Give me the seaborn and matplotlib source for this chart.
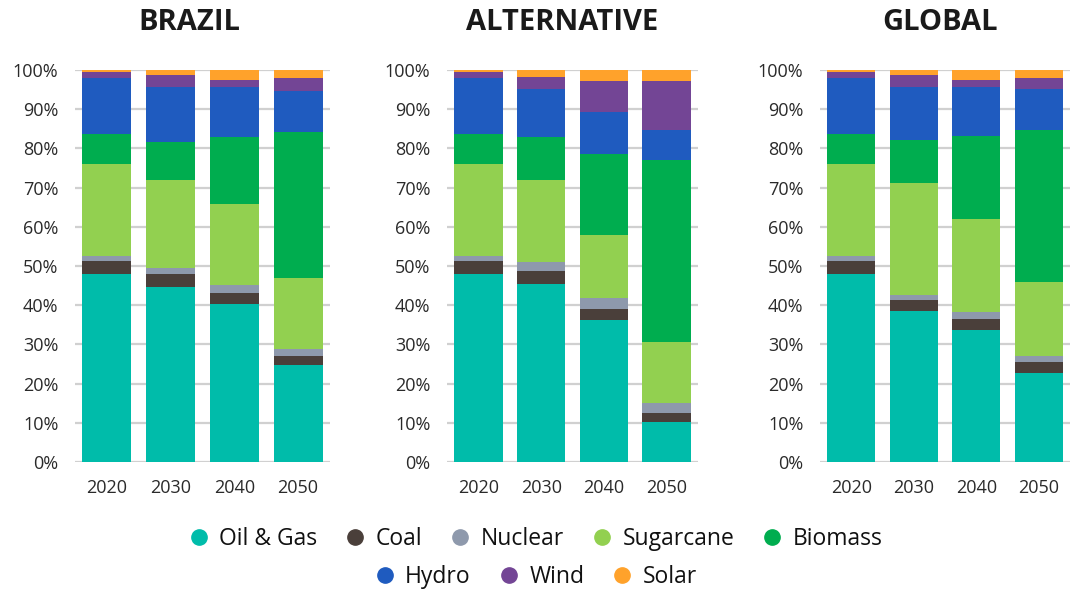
import numpy as np
import pandas as pd
import matplotlib
matplotlib.use("Agg")
import matplotlib.pyplot as plt
from matplotlib.lines import Line2D
import seaborn as sns

years = ["2020", "2030", "2040", "2050"]
scenarios = ["BRAZIL", "ALTERNATIVE", "GLOBAL"]
sources = ["Oil & Gas", "Coal", "Nuclear", "Sugarcane", "Biomass", "Hydro", "Wind", "Solar"]
colors = ["#00BCAA", "#4A3F3A", "#8E99AC", "#92D050", "#00AD4F", "#1F5BBF", "#734595", "#FFA22B"]

# shares (%) per source, per year 2020..2050
brazil_oil = [47.9, 44.6, 40.3, 24.7]
brazil_coal = [3.5, 3.3, 2.9, 2.3]
brazil_nuclear = [1.2, 1.6, 1.9, 1.7]
brazil_sugarcane = [23.5, 22.4, 20.7, 18.2]
brazil_biomass = [7.7, 9.8, 17.0, 37.4]
brazil_hydro = [14.1, 14.0, 12.8, 10.3]
brazil_wind = [1.7, 2.9, 1.8, 3.3]
brazil_solar = [0.4, 1.4, 2.6, 2.1]

alt_oil = [47.9, 45.4, 36.2, 10.2]
alt_coal = [3.5, 3.3, 2.9, 2.2]
alt_nuclear = [1.2, 2.3, 2.7, 2.6]
alt_sugarcane = [23.5, 20.9, 16.2, 15.5]
alt_biomass = [7.7, 10.9, 20.6, 46.5]
alt_hydro = [14.1, 12.3, 10.8, 7.8]
alt_wind = [1.7, 3.1, 7.8, 12.4]
alt_solar = [0.4, 1.8, 2.8, 2.8]

glob_oil = [47.9, 38.4, 33.7, 22.6]
glob_coal = [3.5, 2.9, 2.7, 2.8]
glob_nuclear = [1.2, 1.3, 1.9, 1.7]
glob_sugarcane = [23.5, 28.5, 23.6, 18.7]
glob_biomass = [7.7, 11.0, 21.3, 38.9]
glob_hydro = [14.1, 13.6, 12.5, 10.4]
glob_wind = [1.7, 2.9, 1.7, 2.8]
glob_solar = [0.4, 1.4, 2.6, 2.1]

data = {
    "BRAZIL": [brazil_oil, brazil_coal, brazil_nuclear, brazil_sugarcane,
               brazil_biomass, brazil_hydro, brazil_wind, brazil_solar],
    "ALTERNATIVE": [alt_oil, alt_coal, alt_nuclear, alt_sugarcane,
                    alt_biomass, alt_hydro, alt_wind, alt_solar],
    "GLOBAL": [glob_oil, glob_coal, glob_nuclear, glob_sugarcane,
               glob_biomass, glob_hydro, glob_wind, glob_solar],
}

sns.set_theme(style="white")
plt.rcParams["font.family"] = ["Open Sans", "DejaVu Sans"]

fig = plt.figure(figsize=(10.7, 5.9), dpi=100)
W, H = 1070, 590
ax_px = [(75, 330), (447, 698), (820, 1070)]
title_x = [189, 562, 940]
y0, y1 = 462, 70

for (l, r), tx, scen in zip(ax_px, title_x, scenarios):
    ax = fig.add_axes([l / W, 1 - y0 / H, (r - l) / W, (y0 - y1) / H])
    vals = np.array(data[scen], dtype=float)
    cum = np.cumsum(vals, axis=0)
    # draw from the top of the stack downwards (overlay technique)
    for i in range(len(sources) - 1, -1, -1):
        df = pd.DataFrame({"year": years, "value": cum[i]})
        sns.barplot(data=df, x="year", y="value", color=colors[i], ax=ax,
                    width=0.77, saturation=1, linewidth=0, zorder=2)
    ax.set_ylim(0, 100)
    ax.set_xlim(-0.5, 3.5)
    ax.set_yticks(np.arange(0, 101, 10))
    ax.set_yticklabels([f"{v}%" for v in range(0, 101, 10)])
    ax.yaxis.grid(True, color="#D0D0D0", linewidth=1.6, zorder=0)
    ax.set_axisbelow(True)
    for s in ax.spines.values():
        s.set_visible(False)
    ax.tick_params(axis="both", length=0, labelsize=13, colors="#2a2a2a")
    ax.tick_params(axis="y", pad=12)
    ax.tick_params(axis="x", pad=12)
    ax.set_xlabel("")
    ax.set_ylabel("")
    fig.text(tx / W, 1 - 23 / H, scen, ha="center", va="center",
             fontsize=21, fontweight="bold", color="#1a1a1a")

def handles(idx):
    return [Line2D([0], [0], marker="o", linestyle="none", markersize=11,
                   markerfacecolor=colors[i], markeredgecolor=colors[i]) for i in idx]

leg_kw = dict(loc="center", frameon=False, handletextpad=0.4, columnspacing=1.15,
              handlelength=1.0, labelcolor="#111111",
              prop={"size": 16.5})
fig.legend(handles([0, 1, 2, 3, 4]), [sources[i] for i in range(5)],
           bbox_to_anchor=(0.5, 1 - 539 / H), ncol=5, **leg_kw)
fig.legend(handles([5, 6, 7]), [sources[i] for i in range(5, 8)],
           bbox_to_anchor=(0.5, 1 - 577 / H), ncol=3, **leg_kw)

fig.savefig("out.png", dpi=100, facecolor="white")
